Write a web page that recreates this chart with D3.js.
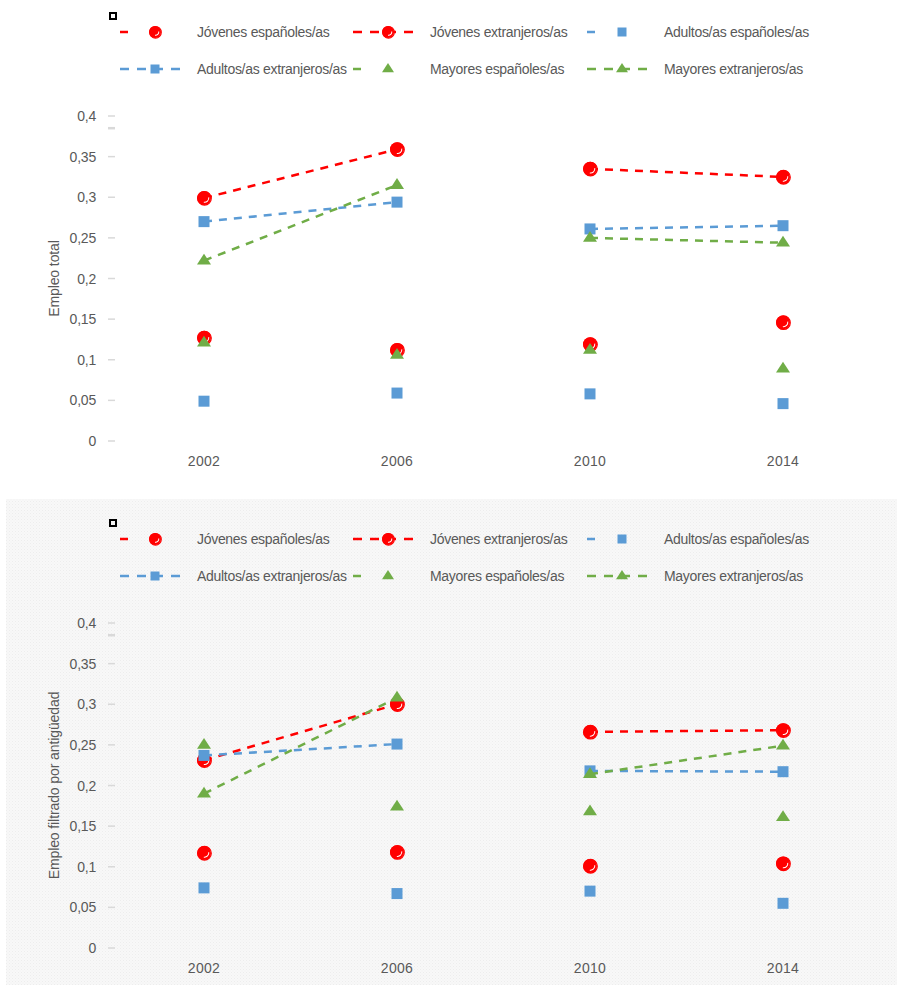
<!DOCTYPE html>
<html><head><meta charset="utf-8">
<script src="https://cdn.jsdelivr.net/npm/d3@7"></script>
<style>body{margin:0;background:#fff}svg text{font-family:"Liberation Sans",Arial,sans-serif;fill:#595959}</style>
</head><body>
<script>
const years = ["2002","2006","2010","2014"];
const yTicks = [0,0.05,0.1,0.15,0.2,0.25,0.3,0.35,0.4];
const seriesNames = ["Jóvenes españoles/as","Jóvenes extranjeros/as","Adultos/as españoles/as","Adultos/as extranjeros/as","Mayores españoles/as","Mayores extranjeros/as"];
// Panel 1: Empleo total
const total_jovEsp = [0.127,0.112,0.119,0.146];
const total_jovExt = [0.299,0.359,0.335,0.325];
const total_aduEsp = [0.049,0.059,0.058,0.046];
const total_aduExt = [0.270,0.294,0.261,0.265];
const total_mayEsp = [0.121,0.106,0.112,0.089];
const total_mayExt = [0.222,0.315,0.250,0.244];
// Panel 2: Empleo filtrado por antigüedad
const filt_jovEsp = [0.117,0.118,0.101,0.104];
const filt_jovExt = [0.231,0.300,0.266,0.268];
const filt_aduEsp = [0.074,0.067,0.070,0.055];
const filt_aduExt = [0.237,0.251,0.218,0.217];
const filt_mayEsp = [0.250,0.174,0.168,0.161];
const filt_mayExt = [0.190,0.308,0.214,0.249];
const segments = [[0,1],[2,3]];

const colors = ["#ff0000","#ff0000","#5b9bd5","#5b9bd5","#70ad47","#70ad47"];
const shapes = ["circle","circle","square","square","triangle","triangle"];
const connected = [false,true,false,true,false,true];

const W=897,H=985;
const svg=d3.select("body").append("svg").attr("width",W).attr("height",H);
const defs=svg.append("defs");
const pat=defs.append("pattern").attr("id","tex").attr("width",3).attr("height",3).attr("patternUnits","userSpaceOnUse");
pat.append("rect").attr("width",3).attr("height",3).attr("fill","#f8f8f8");
pat.append("rect").attr("width",1).attr("height",1).attr("fill","#ededed");
pat.append("rect").attr("x",1.5).attr("y",1.5).attr("width",1).attr("height",1).attr("fill","#f1f1f1");

function marker(g,shape,color,x,y,size){
  if(shape==="circle"){
    const r=size||7;
    g.append("circle").attr("cx",x).attr("cy",y).attr("r",r).attr("fill",color);
    g.append("circle").attr("cx",x+0.5).attr("cy",y+0.3).attr("r",r-0.2).attr("fill","none").attr("stroke",color).attr("stroke-width",1.2);
    g.append("path").attr("d",d3.arc()({innerRadius:r-3.2,outerRadius:r-2.2,startAngle:Math.PI*0.45,endAngle:Math.PI*1.05})).attr("transform",`translate(${x+0.5},${y})`).attr("fill","#fff");
  } else if(shape==="square"){
    const s=size||11;
    g.append("rect").attr("x",x-s/2).attr("y",y-s/2).attr("width",s).attr("height",s).attr("fill",color);
  } else {
    const s=size||7;
    g.append("path").attr("d",`M${x},${y-s}L${x+s},${y+s*0.55}L${x-s},${y+s*0.55}Z`).attr("fill",color);
  }
}

function panel(oy,data,title,textured){
  const g=svg.append("g").attr("transform",`translate(0,${oy})`);
  if(textured) g.append("rect").attr("x",6).attr("y",-8).attr("width",W-6).attr("height",H-oy+8).attr("fill","url(#tex)");
  const x=d3.scalePoint().domain(years).range([204,783]);
  const y=d3.scaleLinear().domain([0,0.4]).range([441,116]);
  // legend
  g.append("rect").attr("x",110).attr("y",13).attr("width",6).attr("height",6).attr("fill","none").attr("stroke","#000").attr("stroke-width",2);
  seriesNames.forEach((n,i)=>{
    const col=i%3,row=Math.floor(i/3);
    const lx=[120,353,587][col], ly=[32,69][row];
    const lg=g.append("g");
    if(connected[i]){
      lg.append("line").attr("x1",lx).attr("x2",lx+66).attr("y1",ly).attr("y2",ly).attr("stroke",colors[i]).attr("stroke-width",2.5).attr("stroke-dasharray","9,8");
    } else {
      lg.append("line").attr("x1",lx).attr("x2",lx+8).attr("y1",ly).attr("y2",ly).attr("stroke",colors[i]).attr("stroke-width",2.5);
    }
    marker(lg,shapes[i],colors[i],lx+35,ly,shapes[i]==="square"?9:6);
    lg.append("text").attr("x",lx+77).attr("y",ly+5).attr("font-size",14).attr("letter-spacing",-0.3).text(n);
  });
  // y axis
  yTicks.forEach(t=>{
    g.append("line").attr("x1",108).attr("x2",115).attr("y1",y(t)).attr("y2",y(t)).attr("stroke","#d9d9d9").attr("stroke-width",1.5);
    g.append("text").attr("x",96).attr("y",y(t)+5).attr("text-anchor","end").attr("font-size",14).attr("letter-spacing",-0.2).text(String(t).replace(".",","));
  });
  g.append("line").attr("x1",108).attr("x2",115).attr("y1",y(0.385)).attr("y2",y(0.385)).attr("stroke","#d9d9d9").attr("stroke-width",2.5);
  g.append("text").attr("transform",`translate(59,${(y(0)+y(0.4))/2}) rotate(-90)`).attr("text-anchor","middle").attr("font-size",14).attr("letter-spacing",-0.1).text(title);
  years.forEach(yr=>{
    g.append("text").attr("x",x(yr)).attr("y",466).attr("text-anchor","middle").attr("font-size",14).attr("letter-spacing",0.3).text(yr);
  });
  // draw order: red, blue, green (lines then markers per series)
  const line=d3.line().x(d=>x(d[0])).y(d=>y(d[1]));
  const order=[0,1,2,3,4,5];
  order.forEach(i=>{
    const vals=data[i];
    if(connected[i]){
      segments.forEach(([a,b])=>{
        g.append("path").attr("d",line([[years[a],vals[a]],[years[b],vals[b]]])).attr("fill","none").attr("stroke",colors[i]).attr("stroke-width",2.5).attr("stroke-dasharray","8,7");
      });
    }
    vals.forEach((v,k)=>marker(g,shapes[i],colors[i],x(years[k]),y(v)));
  });
}
panel(0,[total_jovEsp,total_jovExt,total_aduEsp,total_aduExt,total_mayEsp,total_mayExt],"Empleo total",false);
panel(507,[filt_jovEsp,filt_jovExt,filt_aduEsp,filt_aduExt,filt_mayEsp,filt_mayExt],"Empleo filtrado por antigüedad",true);
</script>
</body></html>
